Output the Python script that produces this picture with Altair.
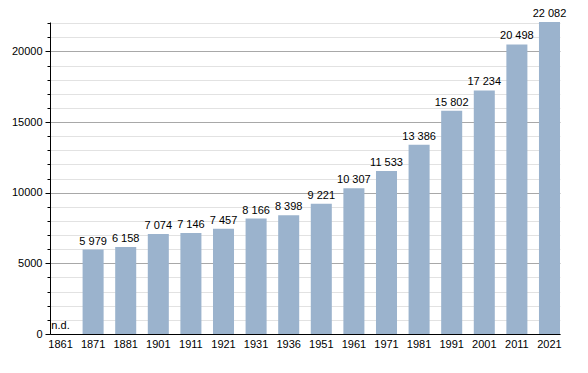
import altair as alt
import pandas as pd

years = ["1861", "1871", "1881", "1901", "1911", "1921", "1931", "1936",
         "1951", "1961", "1971", "1981", "1991", "2001", "2011", "2021"]
population = [None, 5979, 6158, 7074, 7146, 7457, 8166, 8398,
              9221, 10307, 11533, 13386, 15802, 17234, 20498, 22082]
labels = ["n.d.", "5 979", "6 158", "7 074", "7 146", "7 457", "8 166", "8 398",
          "9 221", "10 307", "11 533", "13 386", "15 802", "17 234", "20 498", "22 082"]

df = pd.DataFrame({
    "year": years,
    "pop": population,
    "label": labels,
    "labelpos": [p if p is not None else 0 for p in population],
})

FONT = "Liberation Sans"

x_enc = alt.X("year:N", sort=years,
              scale=alt.Scale(paddingInner=0.355, paddingOuter=0),
              axis=alt.Axis(title=None, labelAngle=0, ticks=False, domainColor="#000000",
                            labelFont=FONT, labelFontSize=11, labelColor="#000000",
                            labelPadding=4))

y_scale = alt.Scale(domain=[0, 22082], nice=False, zero=True)

bars = alt.Chart(df).mark_bar(color="#9bb3cd").encode(
    x=x_enc,
    y=alt.Y("pop:Q", scale=y_scale,
            axis=alt.Axis(
                title=None,
                values=list(range(0, 22001, 1000)),
                tickCount=100,
                format="d",
                labelExpr="datum.value % 5000 === 0 ? datum.label : ''",
                labelOverlap=False,
                labelFlush=False,
                grid=True,
                gridColor={"condition": {"test": "datum.value % 5000 === 0", "value": "#a8a8a8"},
                           "value": "#e2e2e2"},
                tickSize={"condition": {"test": "datum.value % 5000 === 0", "value": 5},
                          "value": 3},
                tickColor="#000000",
                domainColor="#000000",
                labelFont=FONT, labelFontSize=11, labelColor="#000000",
                labelPadding=3,
            )),
)

text = alt.Chart(df).mark_text(baseline="bottom", dy=-3, font=FONT, fontSize=11,
                               color="#000000").encode(
    x=alt.X("year:N", sort=years),
    y=alt.Y("labelpos:Q", scale=y_scale),
    text="label:N",
)

chart = alt.layer(bars, text).properties(
    width=510, height=312,
    autosize=alt.AutoSizeParams(type="none"),
    padding={"left": 42, "top": 14, "right": 20, "bottom": 30},
).configure_view(stroke=None)

chart.save("out.html", embed_options={"renderer": "svg", "actions": False})
